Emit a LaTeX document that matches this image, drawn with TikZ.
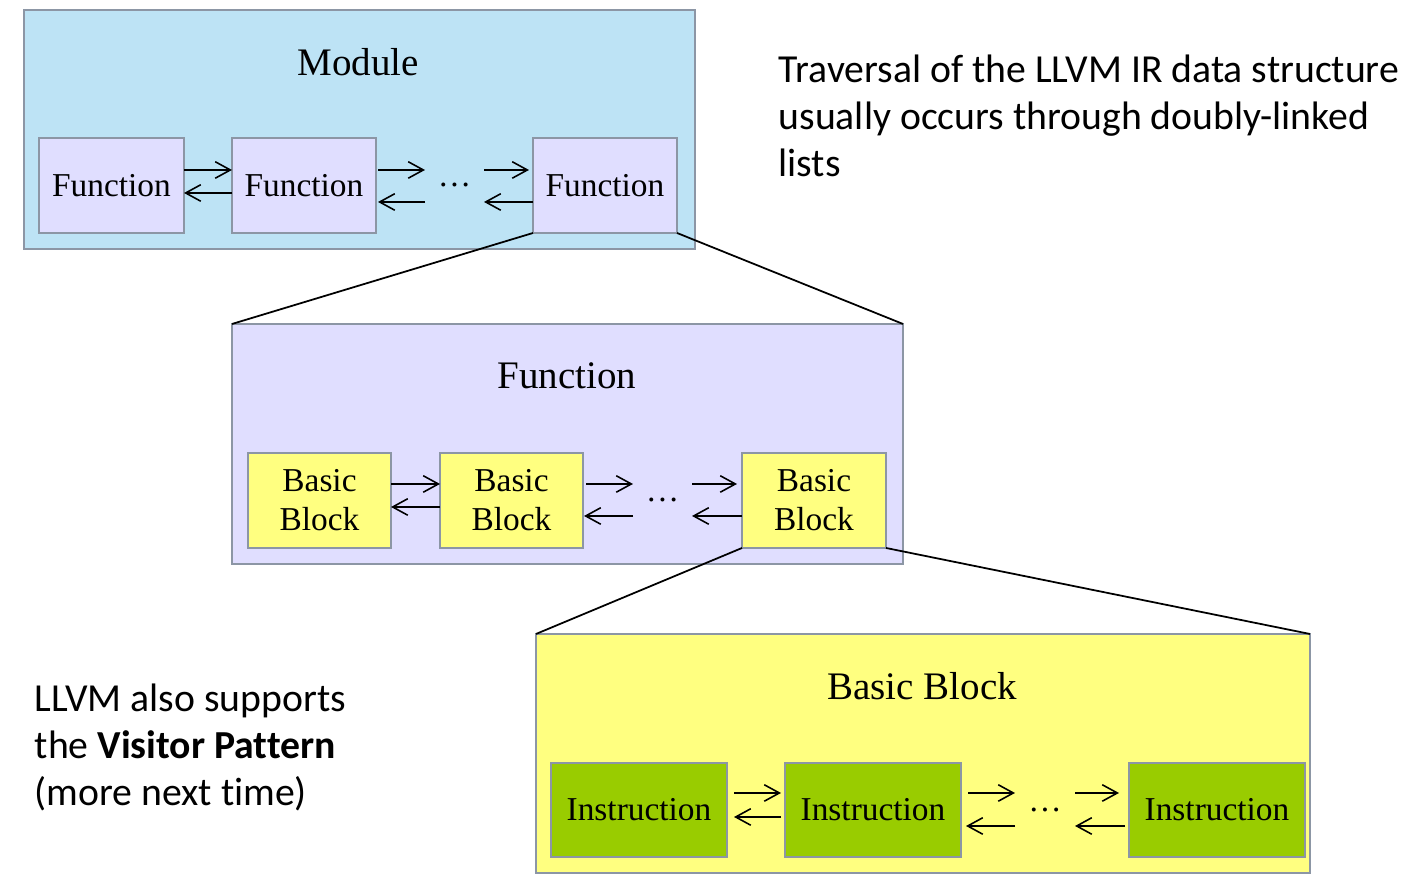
\documentclass[tikz,border=0pt]{standalone}
\usepackage{fontspec}
\setmainfont{Liberation Serif}
\newfontfamily\calibri[Ligatures=NoCommon]{Carlito}
\usetikzlibrary{arrows.meta}

\definecolor{modblue}{RGB}{189,227,245}
\definecolor{funlav}{RGB}{224,222,255}
\definecolor{bbyellow}{RGB}{255,255,128}
\definecolor{insgreen}{RGB}{153,204,0}
\definecolor{boxgray}{RGB}{140,150,165}

\begin{document}
\begin{tikzpicture}[outer/.style={draw=boxgray,line width=0.5pt,inner sep=0pt,outer sep=0pt,minimum height=2.39cm},item/.style={draw=boxgray,line width=0.5pt,inner sep=0pt,outer sep=0pt,align=center,font=\fontsize{9.5}{11.1}\selectfont,minimum height=0.95cm},title/.style={font=\fontsize{11.1}{13}\selectfont},gap/.style={inner sep=0pt,outer sep=0pt,minimum width=0.59cm,font=\fontsize{9.5}{11.1}\selectfont},link/.style={line width=0.45pt,-{Straight Barb[length=4.3pt,width=4.7pt]}},zoomline/.style={line width=0.5pt},note/.style={font=\calibri\fontsize{11.3}{13.4}\selectfont,align=left,inner sep=0pt,anchor=north west}]
\useasboundingbox (0,0) rectangle (14.14,8.96);
% module level
\node[outer, fill=modblue, minimum width=6.71cm] (modbox) at (3.595,7.665) {};
\node[title] (modtitle) at (3.58,8.34) {Module};
\node[item, fill=funlav, minimum width=1.45cm] (f1) at (1.115,7.105) {Function};
\node[item, fill=funlav, minimum width=1.44cm] (f2) at (3.04,7.105) {Function};
\node[gap] (fdots) at (4.545,7.105) {\dots};
\node[item, fill=funlav, minimum width=1.44cm] (f3) at (6.05,7.105) {Function};
\draw[link] ([yshift=1.55mm]f1.east) -- ([yshift=1.55mm]f2.west);
\draw[link] ([yshift=-0.75mm]f2.west) -- ([yshift=-0.75mm]f1.east);
\draw[link, shorten <=0.2mm] ([yshift=1.55mm]f2.east) -- ([yshift=1.55mm]fdots.west);
\draw[link, shorten >=0.2mm] ([yshift=-1.65mm]fdots.west) -- ([yshift=-1.65mm]f2.east);
\draw[link, shorten >=0.4mm] ([yshift=1.55mm]fdots.east) -- ([yshift=1.55mm]f3.west);
\draw[link] ([yshift=-1.65mm]f3.west) -- ([yshift=-1.65mm]fdots.east);
% function level
\node[outer, fill=funlav, minimum width=6.71cm, minimum height=2.40cm] (funbox) at (5.675,4.52) {};
\node[title] (funtitle) at (5.67,5.20) {Function};
\node[item, fill=bbyellow, minimum width=1.43cm] (b1) at (3.195,3.955) {Basic\\Block};
\node[item, fill=bbyellow, minimum width=1.43cm] (b2) at (5.115,3.955) {Basic\\Block};
\node[gap] (bdots) at (6.625,3.955) {\dots};
\node[item, fill=bbyellow, minimum width=1.44cm] (b3) at (8.14,3.955) {Basic\\Block};
\draw[link] ([yshift=1.65mm]b1.east) -- ([yshift=1.65mm]b2.west);
\draw[link] ([yshift=-0.65mm]b2.west) -- ([yshift=-0.65mm]b1.east);
\draw[link, shorten <=0.3mm] ([yshift=1.65mm]b2.east) -- ([yshift=1.65mm]bdots.west);
\draw[link, shorten >=0.1mm] ([yshift=-1.55mm]bdots.west) -- ([yshift=-1.55mm]b2.east);
\draw[link, shorten >=0.5mm] ([yshift=1.65mm]bdots.east) -- ([yshift=1.65mm]b3.west);
\draw[link] ([yshift=-1.55mm]b3.west) -- ([yshift=-1.55mm]bdots.east);
% basic block level
\node[outer, fill=bbyellow, minimum width=7.74cm] (bbbox) at (9.23,1.425) {};
\node[title] (bbtitle) at (9.22,2.10) {Basic Block};
\node[item, fill=insgreen, minimum width=1.76cm, minimum height=0.94cm] (i1) at (6.39,0.86) {Instruction};
\node[item, fill=insgreen, minimum width=1.76cm, minimum height=0.94cm] (i2) at (8.73,0.86) {Instruction};
\node[gap, minimum width=0.60cm] (idots) at (10.45,0.86) {\dots};
\node[item, fill=insgreen, minimum width=1.76cm, minimum height=0.94cm] (i3) at (12.17,0.86) {Instruction};
\draw[link, shorten <=0.7mm, shorten >=0.4mm] ([yshift=1.7mm]i1.east) -- ([yshift=1.7mm]i2.west);
\draw[link, shorten <=0.4mm, shorten >=0.7mm] ([yshift=-0.7mm]i2.west) -- ([yshift=-0.7mm]i1.east);
\draw[link, shorten <=0.7mm] ([yshift=1.7mm]i2.east) -- ([yshift=1.7mm]idots.west);
\draw[link, shorten >=0.5mm] ([yshift=-1.6mm]idots.west) -- ([yshift=-1.6mm]i2.east);
\draw[link, shorten >=1.0mm] ([yshift=1.7mm]idots.east) -- ([yshift=1.7mm]i3.west);
\draw[link, shorten <=0.4mm] ([yshift=-1.6mm]i3.west) -- ([yshift=-1.6mm]idots.east);
% zoom lines
\draw[zoomline] (f3.south west) -- (funbox.north west);
\draw[zoomline] (f3.south east) -- (funbox.north east);
\draw[zoomline] (b3.south west) -- (bbbox.north west);
\draw[zoomline] (b3.south east) -- (bbbox.north east);
% side notes
\node[note] (travnote) at (7.78,8.42) {Traversal of the LLVM IR data structure\\usually occurs through doubly-linked\\lists};
\node[note] (visnote) at (0.34,2.13) {LLVM also supports\\the \textbf{Visitor Pattern}\\(more next time)};
\end{tikzpicture}
\end{document}
